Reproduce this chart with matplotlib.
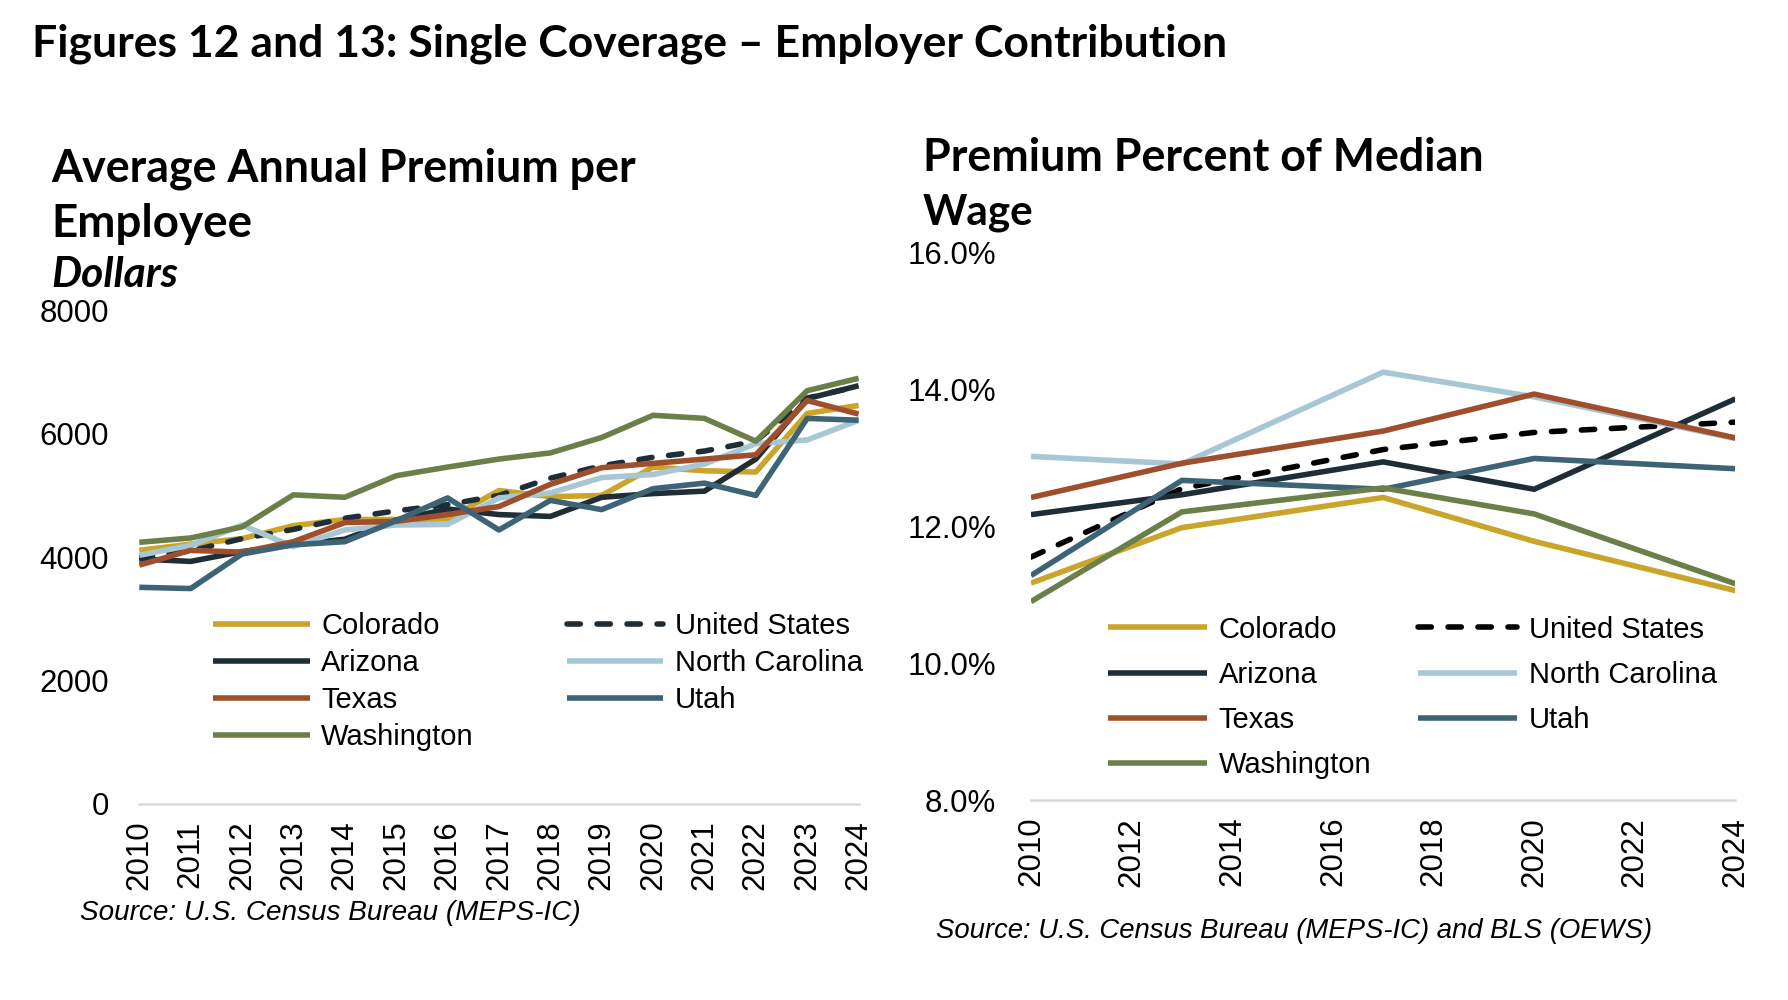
import matplotlib
matplotlib.use("Agg")
import matplotlib.pyplot as plt

# ---------------- data ----------------
years_left = list(range(2010, 2025))
prem_colorado = [4110, 4210, 4300, 4510, 4610, 4610, 4620, 5080, 4980, 5000, 5460, 5400, 5380, 6330, 6460]
prem_us = [3990, 4100, 4300, 4450, 4630, 4750, 4850, 5000, 5280, 5480, 5620, 5720, 5880, 6580, 6770]
prem_arizona = [3970, 3930, 4090, 4200, 4290, 4600, 4780, 4690, 4660, 4970, 5030, 5070, 5590, 6570, 6780]
prem_nc = [4030, 4190, 4520, 4170, 4440, 4520, 4530, 4960, 5040, 5290, 5340, 5510, 5840, 5900, 6220]
prem_texas = [3870, 4110, 4080, 4250, 4560, 4580, 4690, 4820, 5180, 5450, 5520, 5590, 5660, 6540, 6320]
prem_utah = [3510, 3490, 4050, 4200, 4250, 4590, 4960, 4440, 4920, 4770, 5110, 5200, 5000, 6250, 6220]
prem_washington = [4240, 4310, 4490, 5010, 4970, 5320, 5460, 5590, 5690, 5940, 6300, 6250, 5880, 6700, 6900]

years_right = [2010, 2013, 2017, 2020, 2024]
pct_colorado = [11.17, 11.98, 12.42, 11.78, 11.06]
pct_us = [11.55, 12.55, 13.12, 13.37, 13.52]
pct_arizona = [12.17, 12.46, 12.94, 12.54, 13.86]
pct_nc = [13.02, 12.91, 14.25, 13.89, 13.28]
pct_texas = [12.42, 12.92, 13.39, 13.93, 13.29]
pct_utah = [11.28, 12.67, 12.54, 12.99, 12.84]
pct_washington = [10.90, 12.21, 12.56, 12.18, 11.16]

left_yticks = [0, 2000, 4000, 6000, 8000]
right_yticks = [8, 10, 12, 14, 16]
right_xticks = list(range(2010, 2025, 2))

title = "Figures 12 and 13: Single Coverage \u2013 Employer Contribution"
left_title1 = "Average Annual Premium per"
left_title2 = "Employee"
left_unit = "Dollars"
right_title1 = "Premium Percent of Median"
right_title2 = "Wage"
left_source = "Source: U.S. Census Bureau (MEPS-IC)"
right_source = "Source: U.S. Census Bureau (MEPS-IC) and BLS (OEWS)"

# ---------------- style ----------------
C_CO = "#CBA42B"
C_AZ = "#1F2E36"
C_TX = "#A04F2D"
C_WA = "#6B7F48"
C_NC = "#A7C7D5"
C_UT = "#3C6376"
C_US_L = "#1F2E36"
C_US_R = "#000000"
GRID = "#D9D9D9"
LW = 4.0
TICK_FONT = "Liberation Sans"
HEAD_FONT = "Lato"
TFS = 22.5
LFS = 21

W, H = 1788, 1000
fig = plt.figure(figsize=(W / 100, H / 100), dpi=100)
fig.patch.set_facecolor("white")
renderer = fig.canvas.get_renderer()


def fit_text(x_px, y_px, s, width_px, **kw):
    t = fig.text(x_px / W, 1 - y_px / H, s, va="baseline", ha="left", **kw)
    fs = t.get_fontsize()
    w = t.get_window_extent(renderer).width
    t.set_fontsize(fs * width_px / w)
    return t


fit_text(32, 57, title, 1195, family=HEAD_FONT, weight="bold", fontsize=26)
fit_text(51, 182, left_title1, 585, family=HEAD_FONT, weight="bold", fontsize=28)
fit_text(51, 237, left_title2, 201, family=HEAD_FONT, weight="bold", fontsize=28)
fit_text(51, 287, left_unit, 127, family=HEAD_FONT, weight="bold", style="italic", fontsize=26)
fit_text(923, 171, right_title1, 561, family=HEAD_FONT, weight="bold", fontsize=28)
fit_text(923, 225, right_title2, 111, family=HEAD_FONT, weight="bold", fontsize=28)
fit_text(80, 920, left_source, 500, family=TICK_FONT, style="italic", fontsize=18)
fit_text(936, 938, right_source, 717, family=TICK_FONT, style="italic", fontsize=18)


def style_axes(ax, ypad):
    for s in ["top", "right", "left"]:
        ax.spines[s].set_visible(False)
    ax.spines["bottom"].set_color(GRID)
    ax.spines["bottom"].set_linewidth(1.8)
    ax.tick_params(axis="both", length=0, labelsize=TFS)
    ax.tick_params(axis="y", pad=ypad)
    ax.tick_params(axis="x", pad=12, labelrotation=90)
    for lab in ax.get_xticklabels() + ax.get_yticklabels():
        lab.set_fontfamily(TICK_FONT)


def draw_series(ax, xs, series):
    handles = {}
    for name, vals, col, ls in series:
        if ls == "--":
            (ln,) = ax.plot(xs, vals, color=col, lw=LW, dashes=(2.4, 3.0),
                            dash_capstyle="round", solid_joinstyle="round")
        else:
            (ln,) = ax.plot(xs, vals, color=col, lw=LW, solid_joinstyle="round",
                            solid_capstyle="butt")
        handles[name] = ln
    return handles


orderL = ["Colorado", "Arizona", "Texas", "Washington", "United States", "North Carolina", "Utah"]

# ---------------- left chart ----------------
axL = fig.add_axes([0.0779, 0.1963, 0.4023, 0.4932])
series_left = [
    ("Colorado", prem_colorado, C_CO, "-"),
    ("United States", prem_us, C_US_L, "--"),
    ("Arizona", prem_arizona, C_AZ, "-"),
    ("North Carolina", prem_nc, C_NC, "-"),
    ("Texas", prem_texas, C_TX, "-"),
    ("Utah", prem_utah, C_UT, "-"),
    ("Washington", prem_washington, C_WA, "-"),
]
handlesL = draw_series(axL, years_left, series_left)
axL.set_xlim(2010, 2024)
axL.set_ylim(0, 8000)
axL.set_xticks(years_left)
axL.set_xticklabels([str(y) for y in years_left])
axL.set_yticks(left_yticks)
axL.set_yticklabels([str(v) for v in left_yticks])
style_axes(axL, 22)
axL.legend([handlesL[n] for n in orderL], orderL, ncol=2, loc="upper left",
           bbox_to_anchor=(0.103, 0.388), frameon=False, borderpad=0, borderaxespad=0,
           handlelength=3.3, handletextpad=0.4, labelspacing=0.31, columnspacing=3.2,
           prop={"family": TICK_FONT, "size": LFS})

# ---------------- right chart ----------------
axR = fig.add_axes([0.5766, 0.1998, 0.3940, 0.5479])
series_right = [
    ("Colorado", pct_colorado, C_CO, "-"),
    ("United States", pct_us, C_US_R, "--"),
    ("Arizona", pct_arizona, C_AZ, "-"),
    ("North Carolina", pct_nc, C_NC, "-"),
    ("Texas", pct_texas, C_TX, "-"),
    ("Utah", pct_utah, C_UT, "-"),
    ("Washington", pct_washington, C_WA, "-"),
]
handlesR = draw_series(axR, years_right, series_right)
axR.set_xlim(2010, 2024)
axR.set_ylim(8, 16)
axR.set_xticks(right_xticks)
axR.set_xticklabels([str(y) for y in right_xticks])
axR.set_yticks(right_yticks)
axR.set_yticklabels([f"{v:.1f}%" for v in right_yticks])
style_axes(axR, 25)
axR.legend([handlesR[n] for n in orderL], orderL, ncol=2, loc="upper left",
           bbox_to_anchor=(0.109, 0.337), frameon=False, borderpad=0, borderaxespad=0,
           handlelength=3.4, handletextpad=0.4, labelspacing=0.59, columnspacing=1.6,
           prop={"family": TICK_FONT, "size": LFS})

fig.savefig("out.png", dpi=100, facecolor="white")
